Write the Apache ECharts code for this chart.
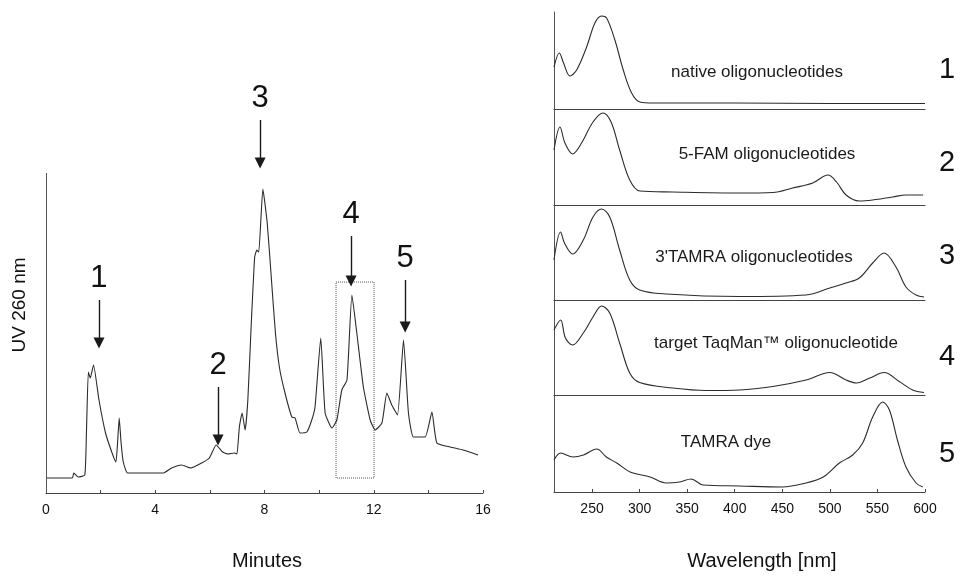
<!DOCTYPE html>
<html>
<head>
<meta charset="utf-8">
<title>HPLC chromatogram and UV spectra</title>
<script src="https://cdn.jsdelivr.net/npm/echarts@6.0.0/dist/echarts.min.js"></script>
<style>
  html, body { margin: 0; padding: 0; background: #fff; }
  #chart { width: 964px; height: 576px; }
</style>
</head>
<body>
<div id="chart"></div>
<script>
// chromatogram, UV 260 nm, [minutes, signal]
var chromatogram = [
  [0, 15], [0.96, 15], [1.02, 20], [1.18, 16], [1.42, 18], [1.48, 60], [1.55, 121], [1.62, 115],
  [1.74, 128], [1.94, 93], [2.18, 60], [2.42, 40], [2.56, 31], [2.62, 50], [2.68, 75], [2.75, 50],
  [2.83, 31], [2.99, 20], [4.3, 20], [4.6, 25], [4.96, 28], [5.3, 25], [5.7, 30], [5.98, 35],
  [6.23, 48], [6.47, 41], [6.66, 39], [6.9, 40], [6.99, 39], [7.08, 66], [7.18, 80], [7.29, 63],
  [7.39, 93], [7.51, 166], [7.64, 236], [7.72, 243], [7.79, 241], [7.94, 304], [8.1, 270],
  [8.25, 215], [8.4, 160], [8.55, 125], [8.75, 100], [9.0, 76], [9.12, 75], [9.3, 60], [9.55, 61],
  [9.73, 73], [9.85, 86], [10.06, 155], [10.22, 80], [10.47, 65], [10.65, 73], [10.83, 103],
  [11.02, 113], [11.2, 198], [11.38, 160], [11.62, 106], [11.87, 73], [12.05, 63], [12.3, 70],
  [12.48, 100], [12.66, 88], [12.87, 78], [13.09, 153], [13.27, 80], [13.45, 56], [13.88, 56],
  [14.13, 81], [14.31, 50], [14.8, 46], [15.27, 43], [15.82, 38]
];

// peak arrows: label, time, arrow top, arrow tip
var peakLabels = ['1', '2', '3', '4', '5'];
var peakTimes = [1.94, 6.3, 7.84, 11.17, 13.15];
var arrowTops = [193, 106, 373, 257, 213];
var arrowTips = [150, 53, 330, 212, 166];

// dotted box around peak 4: [t0, t1], [low, high]
var boxTimes = [10.62, 12.01];
var boxLevels = [15, 211];

// visible signal axis runs 0..320, room above it for the labels
var signalAxisTop = 320;
var signalMax = 413;

var minuteTicks = [0, 4, 8, 12, 16];

// UV spectra, [nm, absorbance]
var spec1 = [
  [210, 42], [215.6, 56], [220, 46], [226.8, 33], [233.8, 39], [244.3, 62], [253, 86], [260, 93],
  [265.3, 91], [274, 69], [282.8, 39], [291.6, 16], [300.3, 7], [314, 6], [400, 6], [500, 5.5], [600, 5.5]
];
var spec2 = [
  [210, 55], [216.3, 78], [221.5, 62], [229.6, 51], [239, 62], [251, 83], [261.5, 92], [270, 83],
  [279, 55], [289.6, 25], [300.3, 14], [335, 13], [405, 12], [440, 12.5], [461, 17], [482, 22],
  [498, 30], [507, 23], [517, 10], [531, 4], [545, 5], [566, 8], [580, 10], [598, 10]
];
var spec3 = [
  [210, 40], [216.9, 68], [221, 57], [229.6, 46], [240.8, 60], [251, 83], [260, 91], [268.6, 83],
  [279, 50], [289.6, 20], [300, 10], [328, 6], [405, 3.5], [475, 5], [500, 12], [517, 17],
  [531, 22], [545, 37], [557, 47], [569.5, 33], [580, 13], [590.6, 5], [599, 3]
];
var spec4 = [
  [210, 65], [217, 75], [222, 57], [229.6, 50], [240.8, 62], [251, 78], [260, 89], [268.6, 82],
  [279, 52], [289.6, 22], [300, 12.5], [335, 7], [370, 4.5], [405, 5], [440, 8.5], [475, 15],
  [500, 22.5], [517, 15], [528, 12], [542, 17], [557, 22.5], [573, 13.5], [587, 5], [599, 2.5]
];
var spec5 = [
  [210, 32], [217, 39], [230, 35], [241, 37], [255, 43], [265, 35], [276, 29], [290, 20],
  [311, 15], [328, 9], [342, 10], [354, 13], [367, 7], [405, 6], [450, 5], [475, 9], [493, 15],
  [510, 29], [524, 37], [534.5, 49], [545, 75], [555.6, 90], [562.6, 82], [571, 52], [580, 25],
  [590.6, 9], [597.7, 5]
];
var spectra = [spec1, spec2, spec3, spec4, spec5];
var spectrumNames = [
  'native oligonucleotides',
  '5-FAM oligonucleotides',
  "3'TAMRA oligonucleotides",
  'target TaqMan\u2122 oligonucleotide',
  'TAMRA dye'
];
var wavelengthTicks = [250, 300, 350, 400, 450, 500, 550, 600];

var font = "'Liberation Sans', Arial, Helvetica, sans-serif";
var ink = '#2b2b2b';

// panel geometry
var panelTops = [12, 109, 205, 300, 395];
var panelHeights = [97, 96, 95, 95, 97];
var nameX = [757, 767, 754, 776, 726];
var nameY = [72, 154, 257, 343, 442];
var numY = [70, 163, 256, 357, 454];

var grids = [{ left: 46, right: 481, top: 80, height: 413 }];
var xAxes = [{
  gridIndex: 0, type: 'value', min: 0, max: 16, interval: 2,
  axisLine: { lineStyle: { color: '#444', width: 1 } },
  axisTick: { inside: true, length: 3, lineStyle: { color: '#444' } },
  axisLabel: {
    margin: 10, color: '#111', fontSize: 14, fontFamily: font,
    formatter: function (v) { return minuteTicks.indexOf(v) >= 0 ? v : ''; }
  },
  splitLine: { show: false }
}];
var yAxes = [{
  gridIndex: 0, type: 'value', min: 0, max: signalMax,
  axisLine: { show: false },
  axisTick: { show: false }, axisLabel: { show: false }, splitLine: { show: false }
}];

var arrowLines = peakLabels.map(function (lab, i) {
  return [{ name: lab, coord: [peakTimes[i], arrowTops[i]] }, { coord: [peakTimes[i], arrowTips[i]] }];
});
// the signal axis line itself, only up to the top of the plotted range
arrowLines.push([
  { coord: [0, 0], symbol: 'none', label: { show: false }, lineStyle: { color: '#555', width: 1 } },
  { coord: [0, signalAxisTop], symbol: 'none' }
]);

var series = [{
  type: 'line', xAxisIndex: 0, yAxisIndex: 0, data: chromatogram,
  showSymbol: false, smooth: 0.15,
  lineStyle: { color: ink, width: 1.1 },
  markLine: {
    silent: true, symbol: ['none', 'triangle'], symbolSize: 11,
    lineStyle: { color: '#1a1a1a', width: 1.4, type: 'solid' },
    label: { show: true, position: 'start', formatter: '{b}', fontSize: 31, color: '#111', fontFamily: font, distance: 6 },
    data: arrowLines
  },
  markArea: {
    silent: true,
    itemStyle: { color: 'rgba(0,0,0,0)', borderColor: '#555', borderWidth: 1, borderType: 'dotted' },
    data: [[{ coord: [boxTimes[0], boxLevels[1]] }, { coord: [boxTimes[1], boxLevels[0]] }]]
  }
}];

var graphics = [
  { type: 'text', x: 20, y: 305, rotation: Math.PI / 2,
    style: { text: 'UV 260 nm', fontSize: 19, fontFamily: font, fill: '#111', textAlign: 'center', textVerticalAlign: 'middle' } },
  { type: 'text', x: 267, y: 561,
    style: { text: 'Minutes', fontSize: 20, fontFamily: font, fill: '#111', textAlign: 'center', textVerticalAlign: 'middle' } },
  { type: 'text', x: 762, y: 561,
    style: { text: 'Wavelength [nm]', fontSize: 20, fontFamily: font, fill: '#111', textAlign: 'center', textVerticalAlign: 'middle' } }
];

spectra.forEach(function (spec, i) {
  var g = i + 1;
  var last = i === spectra.length - 1;
  grids.push({ left: 554, right: 39, top: panelTops[i], height: panelHeights[i] });
  xAxes.push({
    gridIndex: g, type: 'value', min: 210, max: 600,
    axisLine: { lineStyle: { color: '#444', width: 1 } },
    axisTick: last ? { inside: true, length: 3, customValues: wavelengthTicks, lineStyle: { color: '#444' } } : { show: false },
    axisLabel: last ? { customValues: wavelengthTicks, margin: 10, color: '#111', fontSize: 14, fontFamily: font } : { show: false },
    splitLine: { show: false }
  });
  yAxes.push({
    gridIndex: g, type: 'value', min: 0, max: panelHeights[i],
    axisLine: { show: true, lineStyle: { color: '#555', width: 1 } },
    axisTick: { show: false }, axisLabel: { show: false }, splitLine: { show: false }
  });
  series.push({
    type: 'line', xAxisIndex: g, yAxisIndex: g, data: spec,
    showSymbol: false, smooth: 0.35,
    lineStyle: { color: ink, width: 1.1 }
  });
  graphics.push({ type: 'text', x: nameX[i], y: nameY[i],
    style: { text: spectrumNames[i], fontSize: 17, fontFamily: font, fill: '#1a1a1a', textAlign: 'center', textVerticalAlign: 'middle' } });
  graphics.push({ type: 'text', x: 947, y: numY[i],
    style: { text: String(i + 1), fontSize: 29, fontFamily: font, fill: '#111', textAlign: 'center', textVerticalAlign: 'middle' } });
});

var chart = echarts.init(document.getElementById('chart'));
chart.setOption({
  backgroundColor: '#fff',
  animation: false,
  grid: grids,
  xAxis: xAxes,
  yAxis: yAxes,
  series: series,
  graphic: graphics
});
</script>
</body>
</html>
